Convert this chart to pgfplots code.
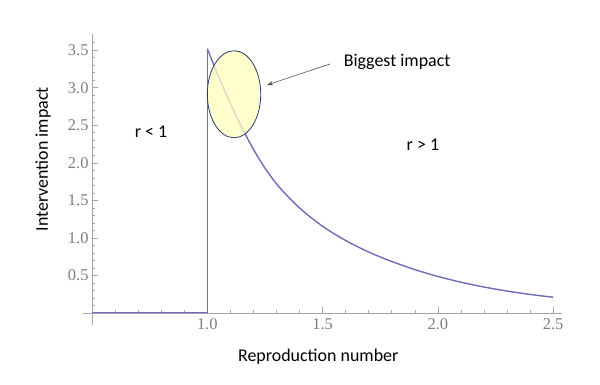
\documentclass[border=0pt]{standalone}
\usepackage{pgfplots}
\pgfplotsset{compat=1.18}
\usetikzlibrary{arrows.meta}
\usepackage{fontspec}
\setmainfont{Carlito}
\newfontfamily\tickfont{Liberation Serif}
\definecolor{axisgray}{RGB}{165,165,165}
\definecolor{tickgray}{RGB}{125,125,125}
\definecolor{curveblue}{RGB}{108,108,190}
\definecolor{ellfill}{RGB}{255,255,190}
\definecolor{elldraw}{RGB}{40,60,110}
\pgfplotstableread{
x y
0.5 0
1.0 0
1.0 3.52
}\steptable
\pgfplotstableread{
x y
1.00 3.52
1.05 3.14
1.10 2.79
1.15 2.47
1.20 2.18
1.25 1.93
1.30 1.72
1.35 1.55
1.40 1.40
1.45 1.27
1.50 1.155
1.55 1.055
1.60 0.965
1.65 0.885
1.70 0.812
1.75 0.746
1.80 0.686
1.90 0.578
2.00 0.487
2.10 0.410
2.20 0.346
2.30 0.292
2.40 0.247
2.50 0.210
}\curvetable
\begin{document}
\begin{tikzpicture}
\path[use as bounding box] (0,0) rectangle (600bp,385bp);
\begin{axis}[
  at={(92bp,72bp)}, anchor=south west,
  scale only axis, width=470.4bp, height=278.6bp,
  xmin=0.5, xmax=2.54, ymin=0, ymax=3.71,
  axis lines=left,
  axis line style={draw=axisgray, -, line width=0.8bp},
  x axis line style={shorten <=-9bp},
  y axis line style={shorten <=-12bp},
  xtick={1,1.5,2,2.5},
  xticklabels={{\tickfont 1.0},{\tickfont 1.5},{\tickfont 2.0},{\tickfont 2.5}},
  ytick={0.5,1,1.5,2,2.5,3,3.5},
  yticklabels={{\tickfont 0.5},{\tickfont 1.0},{\tickfont 1.5},{\tickfont 2.0},{\tickfont 2.5},{\tickfont 3.0},{\tickfont 3.5}},
  minor xtick={0.6,0.7,0.8,0.9,1.1,1.2,1.3,1.4,1.6,1.7,1.8,1.9,2.1,2.2,2.3,2.4},
  minor ytick={0.1,0.2,0.3,0.4,0.6,0.7,0.8,0.9,1.1,1.2,1.3,1.4,1.6,1.7,1.8,1.9,2.1,2.2,2.3,2.4,2.6,2.7,2.8,2.9,3.1,3.2,3.3,3.4,3.6},
  tick align=inside,
  major tick length=6bp, minor tick length=3bp,
  tick style={draw=axisgray, line width=0.6bp},
  /pgf/number format/assume math mode=true,
  tick label style={font=\tickfont\fontsize{16.5}{17}\selectfont, text=tickgray},
  xticklabel style={yshift=-2bp},
  xlabel={Reproduction number},
  ylabel={Intervention impact},
  xlabel style={font=\fontsize{18}{20}\selectfont, at={(axis description cs:0.481,-0.158)}, anchor=center},
  ylabel style={font=\fontsize{18}{20}\selectfont, at={(axis description cs:-0.104,0.552)}, anchor=center},
]
\addplot[curveblue, line width=1.4bp, line join=miter] table[x=x,y=y] {\steptable};
\addplot[curveblue, line width=1.4bp, smooth, tension=0.5] table[x=x,y=y] {\curvetable};
\draw[elldraw, line width=0.8bp, fill=ellfill, fill opacity=0.75] (axis cs:1.116,2.913) ellipse [x radius=26.7bp, y radius=43.5bp];
\draw[black!70, line width=0.6bp, -{Stealth[length=6bp,width=4bp]}] (axis cs:1.532,3.316) -- (axis cs:1.259,3.036);
\node[font=\fontsize{18}{20}\selectfont] at (axis cs:0.756,2.42) {r < 1};
\node[font=\fontsize{18}{20}\selectfont] at (axis cs:1.935,2.24) {r > 1};
\node[font=\fontsize{18}{20}\selectfont] at (axis cs:1.823,3.34) {Biggest impact};
\end{axis}
\end{tikzpicture}
\end{document}
